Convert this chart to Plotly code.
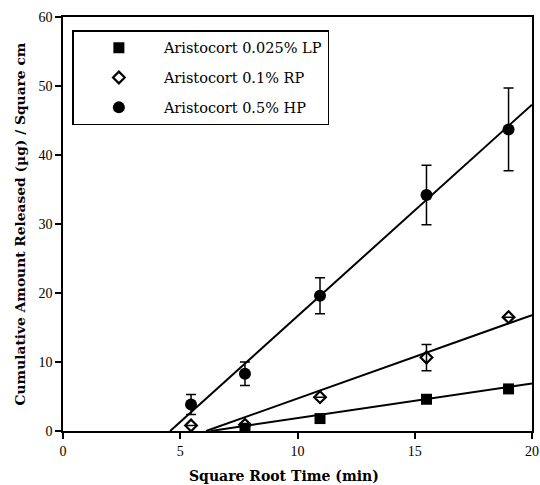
import plotly.graph_objects as go

# ---- data ----
lp_x = [7.76, 10.96, 15.5, 19.0]
lp_y = [0.4, 1.8, 4.6, 6.1]

rp_x = [5.46, 7.76, 10.96, 15.5, 19.0]
rp_y = [0.8, 0.9, 4.9, 10.65, 16.5]
rp_err = [0, 0, 0, 1.9, 0]

hp_x = [5.46, 7.76, 10.96, 15.5, 19.0]
hp_y = [3.85, 8.3, 19.6, 34.2, 43.7]
hp_err = [1.45, 1.7, 2.6, 4.3, 6.0]

# fitted lines: (x-intercept, value at x = 20)
lp_fit = (6.3, 6.9)
rp_fit = (6.1, 16.8)
hp_fit = (4.57, 47.3)
fit_end = 20

names = ["Aristocort 0.025% LP", "Aristocort 0.1% RP", "Aristocort 0.5% HP"]

x_ticks = [0, 5, 10, 15, 20]
y_ticks = [0, 10, 20, 30, 40, 50, 60]

fig = go.Figure()

line_style = dict(color="black", width=2)
for x0, yend in (lp_fit, rp_fit, hp_fit):
    fig.add_trace(go.Scatter(x=[x0, fit_end], y=[0, yend], mode="lines",
                             line=line_style, showlegend=False, hoverinfo="skip"))

fig.add_trace(go.Scatter(
    x=rp_x, y=rp_y, mode="markers", name=names[1], legendgroup="b", legendrank=2,
    marker=dict(symbol="diamond-open", size=9, color="black", line=dict(width=2.2, color="black")),
    error_y=dict(type="data", array=rp_err, color="black", thickness=1.5, width=5),
))
fig.add_trace(go.Scatter(
    x=lp_x, y=lp_y, mode="markers", name=names[0], legendgroup="a", legendrank=1,
    marker=dict(symbol="square", size=11, color="black"),
))
fig.add_trace(go.Scatter(
    x=hp_x, y=hp_y, mode="markers", name=names[2], legendgroup="c", legendrank=3,
    marker=dict(symbol="circle", size=12, color="black"),
    error_y=dict(type="data", array=hp_err, color="black", thickness=1.5, width=5),
))

fig.add_annotation(
    text="<b>Square Root Time (min)</b>", xref="paper", yref="paper",
    x=0.472, y=-0.108, xanchor="center", yanchor="middle", showarrow=False,
    font=dict(family="DejaVu Serif", size=14, color="black"),
)

fig.update_layout(
    width=540, height=485,
    margin=dict(l=63, r=8, t=17, b=54),
    paper_bgcolor="white", plot_bgcolor="white",
    font=dict(family="Liberation Serif", color="black", size=14),
    legend=dict(
        x=0.02, y=0.968, xanchor="left", yanchor="top",
        bordercolor="black", borderwidth=1.5, bgcolor="white",
        font=dict(family="DejaVu Serif", size=14.5, color="black"),
        itemwidth=80, tracegroupgap=8, traceorder="grouped",
    ),
    xaxis=dict(
        range=[0, 20], tickvals=x_ticks, ticks="outside", ticklen=6, tickwidth=1.5,
        tickcolor="black", showline=True, linecolor="black", linewidth=1.5,
        mirror=True, showgrid=False, zeroline=False, automargin=False,
        tickfont=dict(family="Liberation Serif", size=14),
    ),
    yaxis=dict(
        range=[0, 60], tickvals=y_ticks, ticks="outside", ticklen=6, tickwidth=1.5,
        tickcolor="black", showline=True, linecolor="black", linewidth=1.5,
        mirror=True, showgrid=False, zeroline=False, automargin=False,
        tickfont=dict(family="Liberation Serif", size=14),
        title=dict(text="<b>Cumulative Amount Released (\u00b5g) / Square cm</b>", standoff=10,
                   font=dict(family="DejaVu Serif", size=13.8)),
    ),
)

fig.write_html("out.html")
